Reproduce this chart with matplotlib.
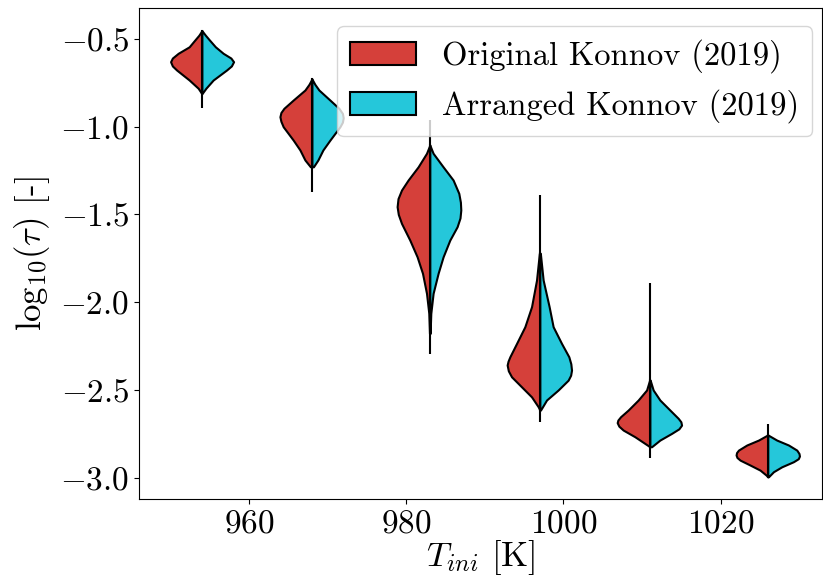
import numpy as np
import matplotlib
matplotlib.use("Agg")
import matplotlib.pyplot as plt
from matplotlib.patches import Patch

plt.rcParams["font.family"] = "serif"
plt.rcParams["font.serif"] = ["cmr10"]
plt.rcParams["mathtext.fontset"] = "cm"
plt.rcParams["axes.formatter.use_mathtext"] = True

# initial temperatures of the six groups
temps = [954, 968, 983, 997, 1011, 1026]

# violin profiles: log10(tau) levels and relative density
# (red = Original Konnov, cyan = Arranged Konnov)
red_y = [
    [-0.454, -0.480, -0.507, -0.546, -0.583, -0.610, -0.631, -0.655, -0.678, -0.735, -0.782, -0.811],
    [-0.729, -0.760, -0.792, -0.849, -0.896, -0.920, -0.944, -0.970, -1.001, -1.077, -1.133, -1.190, -1.229],
    [-1.105, -1.152, -1.229, -1.304, -1.361, -1.410, -1.456, -1.500, -1.551, -1.646, -1.741, -1.835, -1.949, -2.063, -2.177],
    [-1.721, -1.873, -2.025, -2.139, -2.234, -2.310, -2.335, -2.357, -2.390, -2.424, -2.481, -2.538, -2.594, -2.613],
    [-2.443, -2.499, -2.556, -2.613, -2.651, -2.670, -2.685, -2.705, -2.727, -2.765, -2.803, -2.822],
    [-2.756, -2.784, -2.812, -2.841, -2.855, -2.869, -2.883, -2.898, -2.926, -2.955, -2.983, -2.993],
]
red_d = [
    [0.0, 3.0, 7.0, 12.7, 23.7, 29.5, 31.3, 29.5, 25.3, 12.7, 3.7, 0.3],
    [0.0, 3.0, 7.0, 18.7, 28.0, 31.0, 32.0, 31.0, 28.7, 18.7, 12.0, 7.0, 1.5],
    [0.0, 3.3, 11.7, 21.7, 28.3, 31.8, 32.7, 31.5, 28.3, 20.0, 12.7, 7.3, 3.3, 1.0, 0.3],
    [0.5, 3.3, 8.3, 15.0, 23.3, 30.0, 31.8, 32.7, 31.5, 28.3, 18.3, 8.3, 1.7, 0.0],
    [0.3, 3.3, 11.7, 21.7, 29.3, 32.0, 32.7, 31.0, 26.7, 15.0, 5.0, 0.0],
    [0.5, 9.3, 21.0, 29.3, 31.2, 31.7, 30.8, 27.7, 17.7, 7.7, 1.7, 0.0],
]
cyan_y = [
    [-0.454, -0.480, -0.507, -0.546, -0.583, -0.610, -0.631, -0.655, -0.678, -0.735, -0.782, -0.811],
    [-0.729, -0.760, -0.792, -0.849, -0.896, -0.925, -0.950, -0.975, -1.001, -1.077, -1.133, -1.190, -1.229],
    [-1.105, -1.152, -1.229, -1.304, -1.380, -1.430, -1.475, -1.520, -1.570, -1.646, -1.741, -1.835, -1.949, -2.063, -2.177],
    [-1.721, -1.873, -2.025, -2.139, -2.234, -2.310, -2.350, -2.386, -2.415, -2.443, -2.499, -2.556, -2.613],
    [-2.443, -2.499, -2.556, -2.613, -2.660, -2.680, -2.699, -2.720, -2.746, -2.784, -2.822],
    [-2.756, -2.784, -2.812, -2.841, -2.860, -2.875, -2.890, -2.907, -2.936, -2.964, -2.993],
]
cyan_d = [
    [0.0, 3.5, 7.5, 13.5, 21.3, 29.0, 31.7, 29.5, 24.7, 11.3, 4.0, 0.3],
    [0.0, 3.0, 7.0, 18.0, 27.0, 30.5, 31.3, 30.5, 28.0, 18.0, 11.0, 6.0, 1.5],
    [0.0, 3.3, 13.3, 23.3, 29.0, 30.6, 31.0, 30.2, 27.3, 20.0, 13.3, 8.3, 3.3, 1.0, 0.3],
    [0.5, 3.3, 9.3, 13.3, 21.7, 29.0, 31.0, 31.7, 30.8, 28.3, 18.3, 6.7, 0.7],
    [0.3, 3.3, 10.0, 20.0, 28.3, 31.0, 31.7, 29.0, 21.7, 10.0, 1.7],
    [0.5, 9.0, 20.7, 29.0, 31.2, 31.7, 30.5, 25.7, 14.0, 5.7, 0.7],
]
# extent of the thin tails (min, max of log10(tau))
tails = [(-0.896, -0.454), (-1.374, -0.729), (-2.295, -0.964),
         (-2.680, -1.391), (-2.888, -1.892), (-2.993, -2.695)]

red = "#d5403a"
cyan = "#25c7da"
dmax = 32.7
half_width = 4.16

fig = plt.figure(figsize=(8.23, 5.79), dpi=100)
ax = fig.add_axes([139 / 823, 1 - 499.3 / 579, (822 - 139) / 823, (499.3 - 8.3) / 579])

for i, t in enumerate(temps):
    lo, hi = tails[i]
    ax.plot([t, t], [lo, hi], color="black", lw=1.5, zorder=2, solid_capstyle="butt")
    ry = np.array(red_y[i])
    rw = np.array(red_d[i]) / dmax * half_width
    ax.fill_betweenx(ry, t - rw, t, facecolor=red, edgecolor="black", lw=1.5, zorder=3)
    cy = np.array(cyan_y[i])
    cw = np.array(cyan_d[i]) / dmax * half_width
    ax.fill_betweenx(cy, t, t + cw, facecolor=cyan, edgecolor="black", lw=1.5, zorder=3)
    ax.plot([t, t], [min(ry.min(), cy.min()), max(ry.max(), cy.max())],
            color="black", lw=1.5, zorder=4)

ax.set_xlim(946.0, 1032.9)
ax.set_ylim(-3.121, -0.327)
ax.set_xticks([960, 980, 1000, 1020])
ax.set_yticks([-3.0, -2.5, -2.0, -1.5, -1.0, -0.5])
ax.tick_params(labelsize=24)
ax.set_xlabel(r"$T_{ini}$ [K]", fontsize=25, labelpad=0)
ax.set_ylabel(r"$\mathrm{log}_{10}(\tau)$ [-]", fontsize=25, labelpad=6)

handles = [Patch(facecolor=red, edgecolor="black", lw=1.5, label="Original Konnov (2019)"),
           Patch(facecolor=cyan, edgecolor="black", lw=1.5, label="Arranged Konnov (2019)")]
ax.legend(handles=handles, loc="upper right", fontsize=23.5, borderaxespad=0,
          bbox_to_anchor=(0.9854, 0.964))

fig.savefig("out.png", dpi=100)
